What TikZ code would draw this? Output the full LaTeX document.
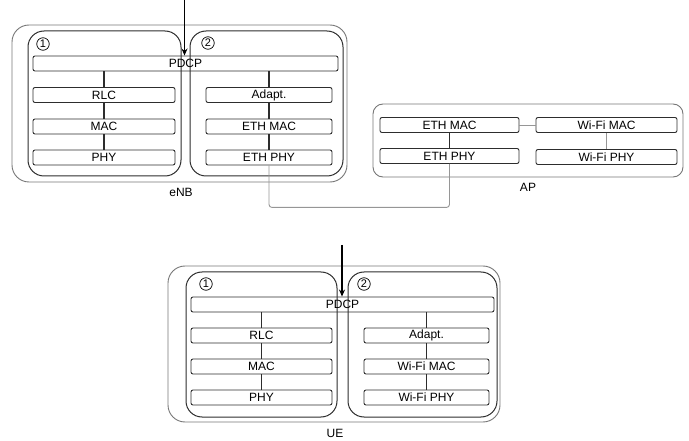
\documentclass[tikz,border=0pt]{standalone}
\usepackage{fontspec}
\setmainfont{Liberation Sans}
\usetikzlibrary{arrows.meta,positioning}
\definecolor{boxgray}{RGB}{118,118,118}
\definecolor{linkgray}{RGB}{150,150,150}
\definecolor{layerdark}{RGB}{45,45,45}

\begin{document}
\begin{tikzpicture}[x=1pt,y=-1pt,font=\fontsize{12}{14}\selectfont,
    layer/.style={draw=layerdark,line width=.9pt,rounded corners=2pt,minimum height=15pt,inner sep=0pt},
    stackline/.style={layerdark,line width=1.3pt},
    outerbox/.style={draw=boxgray,line width=.9pt,rounded corners=17pt},
    innerbox/.style={draw=layerdark,line width=1pt,rounded corners=16pt},
    numcirc/.style={circle,draw=black,line width=.7pt,minimum size=12.5pt,inner sep=0pt,font=\fontsize{11}{11}\selectfont}]
    \useasboundingbox (0,0) rectangle (689,441);
    % eNB
    \draw[outerbox] (12,25) rectangle (347,182);
    \draw[innerbox] (28,31) rectangle (181,176);
    \draw[innerbox] (190,31) rectangle (343,176);
    \node[numcirc] (enum1) at (43,44) {1};
    \node[numcirc] (enum2) at (208,43) {2};
    \node[layer,minimum width=305pt] (epdcp) at (185.5,63.5) {PDCP};
    \node[layer,minimum width=142pt] (erlc) at (104,95) {RLC};
    \node[layer,minimum width=142pt] (emac) at (104,126.5) {MAC};
    \node[layer,minimum width=142pt] (ephy) at (104,157.5) {PHY};
    \node[layer,minimum width=126pt] (eadapt) at (269,95) {Adapt.};
    \node[layer,minimum width=126pt] (eethmac) at (269,126.5) {ETH MAC};
    \node[layer,minimum width=126pt] (eethphy) at (269,157.5) {ETH PHY};
    \node (enblbl) at (181,192) {eNB};
    \draw[stackline] (erlc.north |- epdcp.south) -- (erlc.north);
    \draw[stackline] (erlc) -- (emac); \draw[stackline] (emac) -- (ephy);
    \draw[stackline] (eadapt.north |- epdcp.south) -- (eadapt.north);
    \draw[stackline] (eadapt) -- (eethmac); \draw[stackline] (eethmac) -- (eethphy);
    \coordinate (ein) at (184.5,0);
    \draw[line width=1.3pt,-{Stealth[length=7pt,width=6pt]}] (ein) -- (ein |- epdcp.north);
    % AP
    \draw[outerbox,rounded corners=10pt] (373,104) rectangle (683,177);
    \node[layer,minimum width=139pt] (aethmac) at (449.5,125) {ETH MAC};
    \node[layer,minimum width=139pt] (aethphy) at (449.5,156) {ETH PHY};
    \node[layer,minimum width=141pt] (awifimac) at (606.5,125) {Wi-Fi MAC};
    \node[layer,minimum width=141pt] (awifiphy) at (606.5,157) {Wi-Fi PHY};
    \node (aplbl) at (528,187) {AP};
    \draw[stackline] (aethmac) -- (aethphy);
    \draw[linkgray,line width=.9pt] (aethmac) -- (awifimac);
    \draw[linkgray,line width=.9pt] (awifimac) -- (awifiphy);
    \draw[linkgray,line width=.9pt,rounded corners=3pt] (eethphy.south) -- ++(0,42) -| (aethphy.south);
    % UE
    \draw[outerbox] (168,266) rectangle (500,422);
    \draw[innerbox] (186,272) rectangle (337,417);
    \draw[innerbox] (348,272) rectangle (497,417);
    \node[numcirc] (unum1) at (206,284) {1};
    \node[numcirc] (unum2) at (364,284) {2};
    \node[layer,minimum width=303pt] (updcp) at (342.5,304.5) {PDCP};
    \node[layer,minimum width=141pt] (urlc) at (261.5,335.5) {RLC};
    \node[layer,minimum width=141pt] (umac) at (261.5,366.5) {MAC};
    \node[layer,minimum width=141pt] (uphy) at (261.5,397.5) {PHY};
    \node[layer,minimum width=125pt] (uadapt) at (426.5,335.5) {Adapt.};
    \node[layer,minimum width=125pt] (uwifimac) at (426.5,366.5) {Wi-Fi MAC};
    \node[layer,minimum width=125pt] (uwifiphy) at (426.5,397.5) {Wi-Fi PHY};
    \node (uelbl) at (335,433) {UE};
    \draw[stackline] (urlc.north |- updcp.south) -- (urlc.north);
    \draw[stackline] (urlc) -- (umac); \draw[stackline] (umac) -- (uphy);
    \draw[stackline] (uadapt.north |- updcp.south) -- (uadapt.north);
    \draw[stackline] (uadapt) -- (uwifimac); \draw[stackline] (uwifimac) -- (uwifiphy);
    \coordinate (uin) at (342,245);
    \draw[line width=1.3pt,-{Stealth[length=7pt,width=6pt]}] (uin) -- (uin |- updcp.north);
\end{tikzpicture}
\end{document}
